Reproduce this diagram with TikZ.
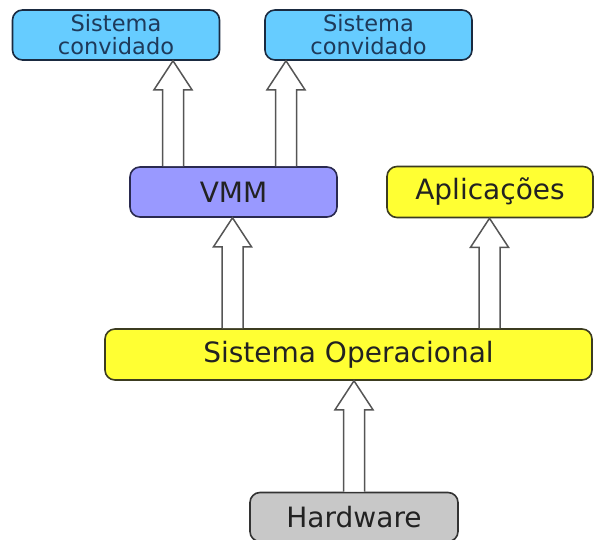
\documentclass[tikz,border=0pt]{standalone}
\usepackage{fontspec}
\setmainfont{DejaVu Sans}
\usetikzlibrary{calc}
\definecolor{guestfill}{HTML}{66CCFF}
\definecolor{guestline}{HTML}{1A2A40}
\definecolor{guesttext}{HTML}{1E3A5A}
\definecolor{vmmfill}{HTML}{9999FF}
\definecolor{vmmline}{HTML}{2A2A50}
\definecolor{yelfill}{HTML}{FFFF33}
\definecolor{yelline}{HTML}{3C3C20}
\definecolor{hwfill}{HTML}{C8C8C8}
\definecolor{hwline}{HTML}{333333}
\definecolor{arrline}{HTML}{555555}
\definecolor{txt}{HTML}{222222}
\tikzset{
  layer/.style={rounded corners=10pt, line width=1.6pt, inner sep=0pt, align=center, text=txt,
                font=\fontsize{28}{30}\selectfont},
  guest/.style={layer, fill=guestfill, draw=guestline, text=guesttext, minimum width=207pt,
                minimum height=50pt, font=\fontsize{22.5}{23}\selectfont},
  vmm/.style={layer, fill=vmmfill, draw=vmmline, minimum width=207pt, minimum height=50pt},
  yel/.style={layer, fill=yelfill, draw=yelline, minimum height=51pt},
  hw/.style={layer, fill=hwfill, draw=hwline, minimum width=208pt, minimum height=49pt},
  blockarrow/.style={draw=arrline, fill=white, line width=1.5pt, line join=miter}
}
% hollow block arrow at horizontal position #1 (pt), from node #2 up to node #3
\newcommand\blockarrow[3]{%
  \draw[blockarrow] let \p1=(#2.north), \p2=(#3.south) in
    ({#1pt-10.5pt},\y1) -- ({#1pt-10.5pt},\y2-29pt) -- ({#1pt-19pt},\y2-29pt)
    -- (#1pt,\y2) -- ({#1pt+19pt},\y2-29pt) -- ({#1pt+10.5pt},\y2-29pt)
    -- ({#1pt+10.5pt},\y1);%
}
\begin{document}
\begin{tikzpicture}[x=1pt,y=-1pt]
\useasboundingbox (0,0) rectangle (594,540);
% layers
\node[guest] (g1) at (116,35) {Sistema\\convidado};
\node[guest] (g2) at (368.5,35) {Sistema\\convidado};
\node[vmm] (vmm) at (233.5,192) {VMM};
\node[yel, minimum width=206pt] (apps) at (490,192) {Aplicações};
\node[yel, minimum width=487pt] (so) at (348.5,354.5) {Sistema Operacional};
\node[hw] (hw) at (354,517) {Hardware};
% arrows between layers
\blockarrow{173}{vmm}{g1}
\blockarrow{286}{vmm}{g2}
\blockarrow{232.5}{so}{vmm}
\blockarrow{489.5}{so}{apps}
\blockarrow{354}{hw}{so}
\end{tikzpicture}
\end{document}
